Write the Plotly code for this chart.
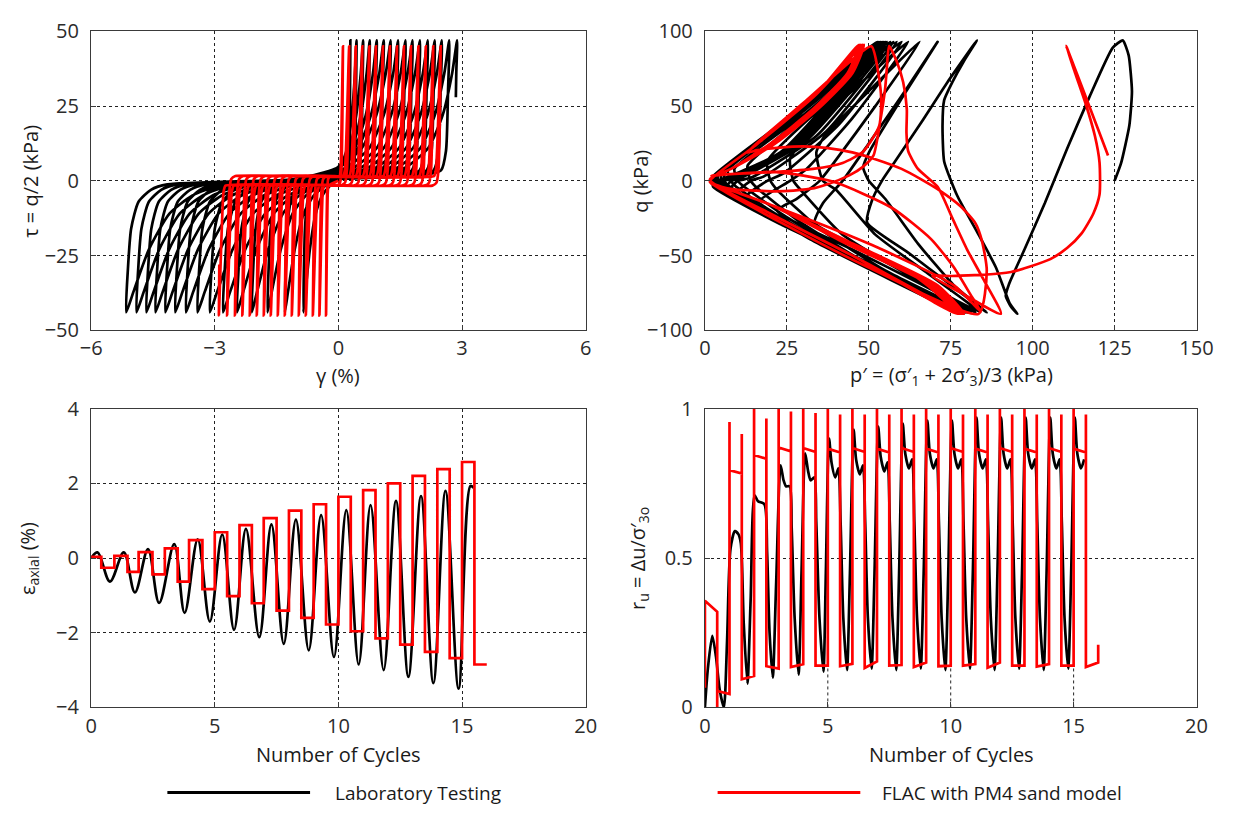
import plotly.graph_objects as go

W, H = 1236, 822
FONT = "Open Sans"
BLACK = "#000000"
RED = "#ff0000"
AXIS = "#3a3a3a"
LW = 2.7

# ---------------- (a) shear stress vs shear strain ----------------
lab_gamma_max = [0.29, 0.44, 0.60, 0.76, 0.93, 1.10, 1.27, 1.45, 1.63, 1.80,
                 1.98, 2.17, 2.34, 2.51, 2.69, 2.88]
lab_gamma_min = [-0.85, -1.30, -1.72, -2.10, -2.46, -2.80, -3.12, -3.42, -3.70,
                 -3.96, -4.20, -4.44, -4.66, -4.90, -5.15]
lab_tau_max = 47.0
lab_tau_min = -44.0
lab_tau_last = 28.0

flac_gamma_min = [-0.30, -0.46, -0.62, -0.79, -0.96, -1.13, -1.30, -1.47, -1.64,
                  -1.81, -1.98, -2.15, -2.33, -2.51, -2.70, -2.90]
flac_gamma_max = [0.11, 0.26, 0.42, 0.58, 0.75, 0.91, 1.08, 1.25, 1.42, 1.59,
                  1.76, 1.94, 2.12, 2.30, 2.48]
flac_tau_max = 45.0
flac_tau_min = -45.0

# branch profiles: (strain offset from the reversal point, shear stress)
LAB_UP_FROM_MIN = [(0.04, -30), (0.12, -16), (0.3, -7), (0.6, -3), (1.0, -1.2)]
LAB_UP_TO_MAX = [(-2.0, 1.5), (-1.25, 4.5), (-0.7, 11), (-0.35, 22), (-0.12, 36)]
LAB_DOWN_FROM_MAX = [(-0.03, 30), (-0.08, 10), (-0.2, 3.5), (-0.6, 2.0)]
LAB_DOWN_TO_MIN = [(2.3, -1.5), (1.6, -5), (1.05, -11), (0.55, -23), (0.18, -37)]

FLAC_UP_FROM_MIN = [(0.02, -20), (0.05, -4), (0.1, 0.6), (0.2, 1.6)]
FLAC_UP_TO_MAX = [(-0.16, 1.6), (-0.11, 4), (-0.06, 20)]
FLAC_DOWN_FROM_MAX = [(-0.02, 20), (-0.05, 4), (-0.1, -0.6), (-0.2, -1.6)]
FLAC_DOWN_TO_MIN = [(0.16, -1.6), (0.11, -4), (0.06, -20)]


def lab_loops():
    g, t = [0.0], [0.0]
    for k, gmax in enumerate(lab_gamma_max):
        gstart = 0.0 if k == 0 else lab_gamma_min[k - 1]
        s = min(1.0, (gmax - gstart) / 4.0)
        if k > 0:
            for d, tau in LAB_UP_FROM_MIN:
                g.append(gstart + d * s); t.append(tau)
        for d, tau in LAB_UP_TO_MAX:
            g.append(gmax + d * s); t.append(tau)
        g.append(gmax); t.append(lab_tau_max)
        if k < len(lab_gamma_min):
            gmin = lab_gamma_min[k]
            s = min(1.0, (gmax - gmin) / 4.0)
            for d, tau in LAB_DOWN_FROM_MAX:
                g.append(gmax + d * s); t.append(tau)
            for d, tau in LAB_DOWN_TO_MIN:
                g.append(gmin + d * s); t.append(tau)
            g.append(gmin); t.append(lab_tau_min)
        else:
            g += [gmax - 0.02, gmax - 0.03]
            t += [36.0, lab_tau_last]
    return g, t


def flac_loops():
    g, t = [0.0], [0.0]
    for k, gmin in enumerate(flac_gamma_min):
        if k > 0:
            gprev = flac_gamma_max[k - 1]
            s = min(1.0, (gprev - gmin) / 0.8)
            for d, tau in FLAC_DOWN_FROM_MAX:
                g.append(gprev + d * s); t.append(tau)
        else:
            s = min(1.0, -gmin / 0.8)
        for d, tau in FLAC_DOWN_TO_MIN:
            g.append(gmin + d * s); t.append(tau)
        g.append(gmin); t.append(flac_tau_min)
        if k < len(flac_gamma_max):
            gmax = flac_gamma_max[k]
            s = min(1.0, (gmax - gmin) / 0.8)
            for d, tau in FLAC_UP_FROM_MIN:
                g.append(gmin + d * s); t.append(tau)
            for d, tau in FLAC_UP_TO_MAX:
                g.append(gmax + d * s); t.append(tau)
            g.append(gmax); t.append(flac_tau_max)
        else:
            g.append(gmin + 0.01); t.append(-28.0)
    return g, t


# ---------------- (b) stress path q vs p' ----------------
lab_stress_path = [
    (125, 0), (127, 12), (129.5, 37), (130.3, 60), (129.3, 84), (127.5, 94),
    (124.4, 89), (117.5, 57), (110.6, 22), (103.7, -15), (97.7, -45), (92.8, -69),
    (91.8, -77), (93.3, -84), (95.3, -89),
    (93, -82), (88.8, -58), (83, -34), (77, -10), (73, 13), (72.5, 37), (73, 54),
    (75.5, 66), (79, 80), (83, 94),
    (74, 66), (66, 39), (58, 13), (54, 0), (51, -13), (49.5, -28), (62, -48),
    (74, -68), (86, -88),
    (76, -70), (65, -42), (55, -12), (50, 0), (48.3, 9), (50.3, 20), (60, 55), (71, 93),
    (61, 60), (50, 25), (42, 0), (36, -15), (33.5, -28), (50, -48), (68, -70), (84, -88),
    (68, -62), (52, -36), (40, -6), (36, 0), (34, 19), (36.5, 30), (50, 60), (65.5, 93),
    (52, 50), (40, 14), (35, 0), (28, -12), (22, -20), (45, -46), (65, -68), (82.5, -88),
    (62, -63), (42, -36), (30, -8), (27, 0), (26, 15), (40, 50), (62, 93),
    (45, 42), (31, 8), (26, 0), (16, -15), (40, -44), (60, -66), (81, -88),
    (55, -60), (35, -32), (22, -6), (20, 0), (19, 13), (35, 48), (60, 93),
    (41, 38), (24, 5), (19, 0), (12, -12), (35, -40), (58, -64), (80, -88),
    (50, -56), (28, -26), (16, -5), (14, 0), (13, 10), (32, 46), (58.5, 93),
    (37, 33), (18, 3), (14, 0), (9, -10), (32, -38), (56, -63), (79.5, -88),
    (46, -52), (24, -23), (12, -4), (10, 0), (9, 8), (30, 44), (57.5, 93),
    (34, 30), (14, 2), (10, 0), (7, -8), (30, -36), (55, -62), (79, -88),
    (43, -50), (20, -20), (9, -3), (8, 0), (7, 7), (28, 43), (56.5, 93),
    (31, 27), (11, 2), (8, 0), (6, -7), (28, -34), (54, -61), (78.5, -88),
    (40, -47), (17, -17), (7, -3), (6, 0), (6, 6), (27, 42), (55.5, 93),
    (29, 25), (9, 2), (6, 0), (5, -6), (27, -33), (53, -60), (78, -88),
    (38, -45), (15, -15), (6, -2), (5, 0), (5, 5), (26, 41), (55, 93),
    (27, 23), (8, 1), (5, 0), (4, -5), (26, -32), (52, -59), (78, -88),
    (36, -43), (13, -13), (5, -2), (4, 0), (4, 4), (25, 40), (54.5, 93),
    (26, 22), (7, 1), (4, 0), (3.5, -5), (25, -31), (51, -58), (77.5, -88),
    (35, -42), (12, -12), (4, -2), (3.5, 0), (3.5, 4), (24, 39), (54, 93),
    (25, 21), (6, 1), (3.5, 0), (3, -4), (24, -30), (50, -57), (77.5, -88),
    (34, -41), (11, -11), (3.5, -2), (3, 0), (3, 4), (24, 39), (53.5, 93),
    (24, 20), (5, 1), (3, 0), (3, -4), (23, -29), (50, -57), (77, -88),
    (33, -40), (10, -10), (3, -2), (2.5, 0), (2.5, 3), (23, 38), (53, 93),
    (23, 19), (5, 1), (2.5, 0), (2.5, -4), (23, -29), (49, -56), (77, -88),
    (32, -39), (10, -10), (3, -2), (2.5, 0), (2.5, 3), (23, 38), (52.5, 93),
    (48, 76), (44, 60),
]

flac_stress_path_start = [
    (123, 17), (110.2, 90.3),
    (113, 72), (116.2, 51.4), (119, 30), (120.4, 12.4), (120.4, -9.2), (118.5, -22),
    (115, -35), (110.5, -45), (105.4, -52.4), (99, -57.5), (93.4, -61), (84, -63),
    (75.4, -63.7), (69.4, -63.7),
    (79, -76), (90.3, -89),
    (85, -66), (80, -46), (75.5, -25), (71, -4), (65, 8), (62, 20), (61.5, 32),
    (61.6, 48), (60.5, 66), (58.5, 80), (56.2, 90.2),
    (55.5, 75), (55, 62), (53.5, 40), (51.4, 16.8), (48, 9), (44.2, 3.8), (39, -1),
    (33.4, -4.9), (27, -6.5), (21.4, -7), (15, -6.5), (9.4, -5.9), (4, -3.5), (1.5, -1.5),
    (25, -30), (50, -58), (83.5, -89),
    (86, -60), (84.5, -40), (82.6, -28.6), (78, -17), (72, -7), (66, 1), (60, 8),
    (52, 14.5), (45, 19), (37, 22), (30, 23), (22, 22), (16, 20.5), (13, 19),
    (30, 52), (46, 83), (50.8, 90),
    (53.7, 58.7), (53.2, 37), (48.3, 19.6), (42, 12), (33, 8), (22, 6), (12, 5),
    (4, 4), (2, 3.5),
    (21, 6), (39, -0.5), (57, -18), (69, -39), (76, -58), (81, -76), (84, -87),
]
# later FLAC cycles: p' at the compression and extension tips
flac_top_p = [47.5, 48.0, 48.5, 47.0, 48.0, 47.5, 48.0, 47.0, 48.0, 47.5, 48.0, 47.0]
flac_bot_p = [78.0, 79.0, 77.5, 78.5, 77.0, 78.0, 79.0, 77.5, 78.0, 77.0, 78.5, 77.0, 79.0]
flac_q_top = 91.0
flac_q_bot = -89.0


def flac_stress_path():
    pts = list(flac_stress_path_start)
    prev_bot = 84.0
    for i, top in enumerate(flac_top_p):
        pts += [(prev_bot - 8, -70), (prev_bot - 33, -43), (20, -16), (5, -4), (1.5, -0.5),
                (15, 23), (34, 58), (top, flac_q_top)]
        bot = flac_bot_p[i]
        pts += [(top - 3.5, 72), (top - 14, 48), (top - 27, 25), (8, 8), (1.5, 1),
                (20, -22), (45, -50), (bot, flac_q_bot)]
        prev_bot = bot
    pts += [(prev_bot - 8, -72), (prev_bot - 14, -62)]
    return [p for p, _ in pts], [q for _, q in pts]


# ---------------- (c) axial strain vs cycles ----------------
lab_eps_peak_n = [0.26, 1.32, 2.30, 3.36, 4.31, 5.30, 6.26, 7.29, 8.28, 9.30,
                  10.32, 11.30, 12.33, 13.34, 14.33, 15.34]
lab_eps_peak = [0.15, 0.15, 0.24, 0.37, 0.50, 0.63, 0.78, 0.90, 1.03, 1.15,
                1.28, 1.42, 1.53, 1.66, 1.80, 1.93]
lab_eps_trough_n = [0.76, 1.77, 2.75, 3.78, 4.80, 5.78, 6.80, 7.79, 8.80, 9.82,
                    10.82, 11.83, 12.83, 13.84, 14.86]
lab_eps_trough = [-0.63, -0.92, -1.20, -1.47, -1.70, -1.92, -2.12, -2.30, -2.47,
                  -2.65, -2.85, -3.00, -3.18, -3.35, -3.50]
lab_eps_end = (15.46, 1.88)

flac_eps_switch_n = [0, 0.41, 0.94, 1.47, 1.92, 2.48, 2.98, 3.50, 3.96, 4.50, 5.00,
                     5.50, 6.00, 6.50, 6.98, 7.50, 8.00, 8.50, 9.00, 9.50, 10.00,
                     10.50, 11.00, 11.50, 12.00, 12.50, 13.00, 13.50, 14.00, 14.50,
                     15.00, 15.50, 16.00]
flac_eps_high = [0.03, 0.06, 0.16, 0.26, 0.48, 0.69, 0.88, 1.07, 1.27, 1.44, 1.64,
                 1.82, 2.00, 2.20, 2.38, 2.57]
flac_eps_low = [-0.26, -0.37, -0.44, -0.63, -0.83, -1.02, -1.21, -1.41, -1.60, -1.78,
                -1.96, -2.15, -2.32, -2.51, -2.68, -2.85]

# ---------------- (d) excess pore pressure ratio vs cycles ----------------
lab_ru_early = [
    (0.0, 0.0), (0.12, 0.13), (0.30, 0.24), (0.45, 0.17), (0.60, 0.06), (0.77, 0.0),
    (0.90, 0.22), (1.04, 0.53), (1.22, 0.59), (1.36, 0.58), (1.46, 0.55), (1.58, 0.28),
    (1.73, 0.08), (1.86, 0.36), (2.02, 0.71), (2.16, 0.69), (2.42, 0.68), (2.53, 0.52),
    (2.63, 0.25), (2.76, 0.10), (2.90, 0.42), (3.08, 0.81), (3.20, 0.76), (3.30, 0.74),
    (3.45, 0.74), (3.53, 0.60), (3.65, 0.30), (3.81, 0.11), (3.93, 0.45), (4.08, 0.85),
    (4.20, 0.79), (4.30, 0.76), (4.45, 0.77), (4.53, 0.62), (4.66, 0.30), (4.82, 0.12),
    (4.92, 0.45),
]
lab_ru_cycle = [5, 6, 7, 8, 9, 10, 11, 12, 13, 14, 15]
lab_ru_spike = [0.90, 0.93, 0.94, 0.95, 0.96, 0.96, 0.97, 0.97, 0.97, 0.97, 0.97]
lab_ru_dip = [0.77, 0.78, 0.79, 0.80, 0.80, 0.80, 0.80, 0.80, 0.80, 0.80, 0.80]
lab_ru_floor = [0.125, 0.13, 0.125, 0.13, 0.125, 0.13, 0.125, 0.13, 0.125, 0.13]

flac_ru_start = [(0.0, 0.066), (0.0, 0.357), (0.5, 0.32), (0.5, 0.0), (0.5, 0.055),
                 (1.0, 0.045)]
flac_ru_peak_a = [0.955, 1.0, 1.0, 1.0, 1.0, 1.0, 1.0, 1.0, 1.0, 1.0, 1.0, 1.0, 1.0, 1.0, 1.0]
flac_ru_plat_a = [0.794, 0.845, 0.870, 0.868, 0.866, 0.868, 0.866, 0.868, 0.866, 0.868,
                  0.866, 0.868, 0.866, 0.868, 0.866]
flac_ru_plat_b = [0.783, 0.832, 0.857, 0.855, 0.853, 0.855, 0.853, 0.855, 0.853, 0.855,
                  0.853, 0.855, 0.853, 0.855, 0.853]
flac_ru_peak_b = [0.915, 0.967, 0.990, 0.985, 0.980, 0.980, 0.980, 0.980, 0.980, 0.980,
                  0.980, 0.980, 0.980, 0.980, 0.980]
flac_ru_floor_a = [0.094, 0.138, 0.135, 0.140, 0.138, 0.132, 0.140, 0.135, 0.138, 0.140,
                   0.133, 0.140, 0.137, 0.140, 0.135]
flac_ru_floor_b = [0.105, 0.130, 0.145, 0.140, 0.146, 0.154, 0.142, 0.150, 0.140, 0.145,
                   0.150, 0.140, 0.145, 0.140, 0.150]
flac_ru_end = 0.21


def lab_eps_series():
    pts = [(0.0, 0.0)]
    for i in range(len(lab_eps_peak_n)):
        pts.append((lab_eps_peak_n[i], lab_eps_peak[i]))
        if i < len(lab_eps_trough_n):
            pts.append((lab_eps_trough_n[i], lab_eps_trough[i]))
    pts.append(lab_eps_end)
    return [a for a, _ in pts], [b for _, b in pts]


def flac_eps_series():
    levels = []
    for hi, lo in zip(flac_eps_high, flac_eps_low):
        levels += [hi, lo]
    x = list(flac_eps_switch_n)
    y = levels + [levels[-1]]
    return x, y


def lab_ru_series():
    x = [a for a, _ in lab_ru_early]
    y = [b for _, b in lab_ru_early]
    for i, n in enumerate(lab_ru_cycle):
        sp, dp = lab_ru_spike[i], lab_ru_dip[i]
        x += [n + 0.05, n + 0.15, n + 0.30, n + 0.43]
        y += [sp, dp + 0.05, dp, dp + 0.03]
        if i < len(lab_ru_floor):
            x += [n + 0.52, n + 0.63, n + 0.78, n + 0.90]
            y += [0.62, 0.30, lab_ru_floor[i], 0.45]
    return x, y


def flac_ru_series():
    x = [a for a, _ in flac_ru_start]
    y = [b for _, b in flac_ru_start]
    for i in range(len(flac_ru_peak_a)):
        n = i + 1
        x += [n, n, n + 0.5, n + 0.5, n + 0.5, n + 1]
        y += [flac_ru_peak_a[i], flac_ru_plat_a[i], flac_ru_plat_b[i],
              flac_ru_peak_b[i], flac_ru_floor_a[i], flac_ru_floor_b[i]]
    x.append(x[-1]); y.append(flac_ru_end)
    return x, y


# ---------------- figure ----------------
fig = go.Figure()


def line(x, y, color, xa, ya, shape="linear", smoothing=0.0):
    kw = dict(color=color, width=LW, shape=shape)
    if shape == "spline":
        kw["smoothing"] = smoothing
    fig.add_trace(go.Scatter(x=x, y=y, mode="lines", line=kw, xaxis=xa, yaxis=ya,
                             showlegend=False, hoverinfo="skip"))


g, t = lab_loops()
line(g, t, BLACK, "x", "y", "spline", 0.6)
g, t = flac_loops()
line(g, t, RED, "x", "y", "spline", 0.4)

line([p for p, _ in lab_stress_path], [q for _, q in lab_stress_path], BLACK, "x2", "y2",
     "spline", 0.5)
p, q = flac_stress_path()
line(p, q, RED, "x2", "y2", "spline", 0.6)

x, y = lab_eps_series()
line(x, y, BLACK, "x3", "y3", "spline", 1.0)
x, y = flac_eps_series()
line(x, y, RED, "x3", "y3", "hv")

x, y = lab_ru_series()
line(x, y, BLACK, "x4", "y4", "spline", 0.7)
x, y = flac_ru_series()
line(x, y, RED, "x4", "y4")

LEFT = [82 / W, 588 / W]
RIGHT = [710 / W, 1213 / W]
TOP = [1 - 327 / H, 1 - 18 / H]
BOTTOM = [1 - 717 / H, 1 - 408 / H]

tickfont = dict(family=FONT, size=20, color="#2b2b2b")


def axis_style(domain, anchor, rng, tickvals, ticktext=None, grid=True):
    d = dict(domain=domain, anchor=anchor, range=rng, tickvals=tickvals,
             showline=True, linecolor=AXIS, linewidth=1.3, mirror=True,
             ticks="inside", ticklen=5, tickcolor=AXIS, tickwidth=1,
             showgrid=grid, gridcolor="#222222", griddash="dot", gridwidth=1,
             zeroline=False, tickfont=tickfont, fixedrange=True)
    if ticktext is not None:
        d["ticktext"] = ticktext
    return d


fig.update_layout(
    width=W, height=H,
    margin=dict(l=0, r=0, t=0, b=0),
    paper_bgcolor="white", plot_bgcolor="white",
    showlegend=False,
    xaxis=axis_style(LEFT, "y", [-6, 6], [-6, -3, 0, 3, 6]),
    yaxis=axis_style(TOP, "x", [-50, 50], [-50, -25, 0, 25, 50]),
    xaxis2=axis_style(RIGHT, "y2", [0, 150], [0, 25, 50, 75, 100, 125, 150]),
    yaxis2=axis_style(TOP, "x2", [-100, 100], [-100, -50, 0, 50, 100]),
    xaxis3=axis_style(LEFT, "y3", [0, 20], [0, 5, 10, 15, 20]),
    yaxis3=axis_style(BOTTOM, "x3", [-4, 4], [-4, -2, 0, 2, 4]),
    xaxis4=axis_style(RIGHT, "y4", [0, 20], [0, 5, 10, 15, 20], grid=False),
    yaxis4=axis_style(BOTTOM, "x4", [0, 1], [0, 0.5, 1], ["0", "0.5", "1"]),
)
for ax in ("yaxis", "yaxis2", "yaxis3", "yaxis4"):
    fig.layout[ax].ticklabelstandoff = 7

# short vertical grid marks below the lowest pore-pressure level
for xv in (5, 10, 15):
    fig.add_shape(type="line", xref="x4", yref="y4", x0=xv, x1=xv, y0=0, y1=0.14,
                  line=dict(color="#222222", width=1, dash="dot"), layer="below")

titlefont = dict(family=FONT, size=20, color="#1a1a1a")


def label(text, px, py, angle=0):
    fig.add_annotation(text=text, x=px / W, y=1 - py / H, xref="paper", yref="paper",
                       showarrow=False, textangle=angle, font=titlefont,
                       xanchor="center", yanchor="middle")


label("γ (%)", 335, 374)
label("p′ = (σ′<sub>1</sub> + 2σ′<sub>3</sub>)/3 (kPa)", 962, 374)
label("Number of Cycles", 335, 766)
label("Number of Cycles", 962, 766)
label("τ = q/2 (kPa)", 20, 173, -90)
label("q (kPa)", 644, 173, -90)
label("ε<sub>axial</sub> (%)", 18, 563, -90)
label("r<sub>u</sub> = Δu/σ′<sub>3o</sub>", 642, 563, -90)

# legend keys
for x0, x1, color in ((160, 306, BLACK), (723, 869, RED)):
    fig.add_shape(type="line", xref="paper", yref="paper", x0=x0 / W, x1=x1 / W,
                  y0=1 - 805 / H, y1=1 - 805 / H, line=dict(color=color, width=3))
fig.add_annotation(text="Laboratory Testing", x=329 / W, y=1 - 805 / H, xref="paper",
                   yref="paper", showarrow=False, xanchor="left", yanchor="middle",
                   font=dict(family=FONT, size=19, color="#1a1a1a"))
fig.add_annotation(text="FLAC with PM4 sand model", x=889 / W, y=1 - 805 / H,
                   xref="paper", yref="paper", showarrow=False, xanchor="left",
                   yanchor="middle", font=dict(family=FONT, size=19, color="#1a1a1a"))

fig.write_html("out.html")
